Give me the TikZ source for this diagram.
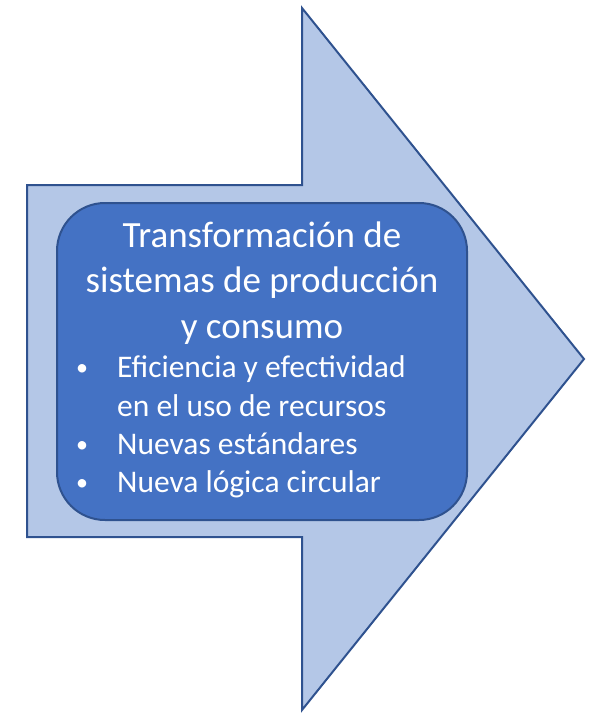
\documentclass[tikz,border=0pt]{standalone}
\usepackage{fontspec}
\setmainfont{Carlito}
\usetikzlibrary{calc}
\definecolor{flechaclara}{HTML}{B4C7E7}
\definecolor{bordeazul}{HTML}{2F528F}
\definecolor{cajaazul}{HTML}{4472C4}
\newcommand{\Vineta}[3]{\node[vineta] at (82,#2-2) {\textbullet}; \node[linea] (#1) at (117,#2) {#3}}
\newcommand{\Seguida}[3]{\node[linea] (#1) at (117,#2) {#3}}

\begin{document}
\begin{tikzpicture}[x=1pt,y=-1pt,
	titulo/.style={anchor=base,inner sep=0pt,text=white,font=\fontsize{37}{45}\selectfont},
	linea/.style={anchor=base west,inner sep=0pt,text=white,font=\fontsize{31.5}{38}\selectfont},
	vineta/.style={anchor=base,inner sep=0pt,text=white,font=\fontsize{24}{30}\selectfont}]
	\def\xBase{302};
	\def\yHaut{185};
	\def\yBas{537};
\useasboundingbox (0,0) rectangle (593,714);

%Sommets de la fleche
\coordinate (A) at (27,\yHaut);
\coordinate (B) at (\xBase,\yHaut);
\coordinate (C) at (\xBase,8);
\coordinate (D) at (584,359);
\coordinate (E) at (\xBase,710);
\coordinate (F) at (\xBase,\yBas);
\coordinate (G) at (27,\yBas);

%Fleche
\filldraw [fill=flechaclara,draw=bordeazul,line width=2pt,line join=miter]
	(A) -- (B) -- (C) -- (D) -- (E) -- (F) -- (G) -- cycle;

%Caja
\filldraw [fill=cajaazul,draw=bordeazul,line width=2pt,rounded corners=48pt]
	(57,203) rectangle (467,520);

%Titulo
\node[titulo] (t1) at (262,247) {Transformación de};
\node[titulo] (t2) at (262,292) {sistemas de producción};
\node[titulo] (t3) at (262,338) {y consumo};

%Lista
\Vineta{p1}{377}{Eficiencia y efectividad};
\Seguida{p1b}{416}{en el uso de recursos};
\Vineta{p2}{454}{Nuevas estándares};
\Vineta{p3}{492}{Nueva lógica circular};

\end{tikzpicture}
\end{document}
